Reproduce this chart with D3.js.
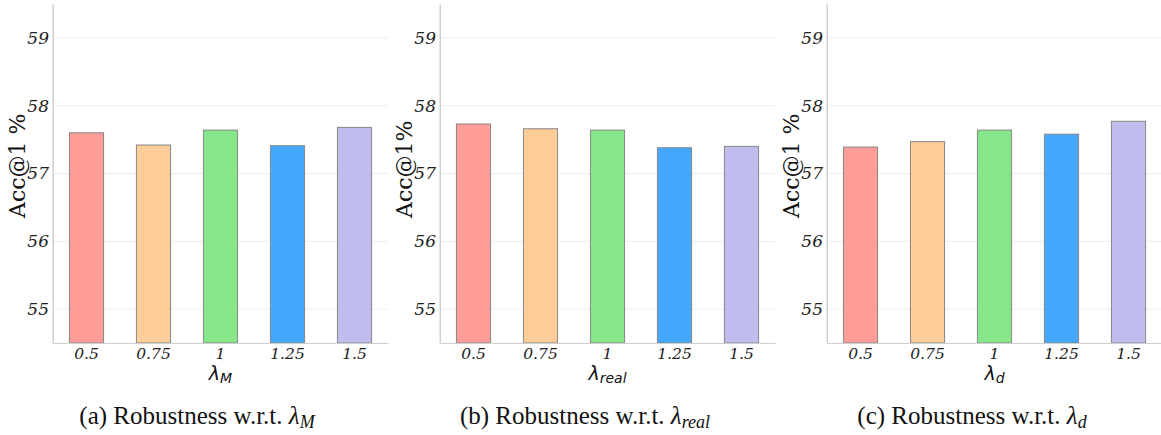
<!DOCTYPE html>
<html><head><meta charset="utf-8">
<script src="https://cdn.jsdelivr.net/npm/d3@7"></script>
<style>
body{margin:0;background:#fff;}
svg{display:block;}
</style></head>
<body>
<svg id="c" width="1161" height="435"></svg>
<script>
const categories = ["0.5", "0.75", "1", "1.25", "1.5"];
const valuesM    = [57.60, 57.42, 57.64, 57.41, 57.68];
const valuesReal = [57.73, 57.66, 57.64, 57.38, 57.40];
const valuesD    = [57.39, 57.47, 57.64, 57.58, 57.77];
const yTicks = [55, 56, 57, 58, 59];
const yDomain = [54.5, 59.5];
const barColors = ["#fe9c98", "#fecc98", "#86e78a", "#43a8fc", "#bfbdee"];
const yLabels = ["Acc@1 %", "Acc@1%", "Acc@1 %"];
const subs = ["M", "real", "d"];
const captionPrefix = ["(a)", "(b)", "(c)"];
const seriesList = [valuesM, valuesReal, valuesD];

const svg = d3.select("#c");
const lefts = [53, 440, 827];
const plotTop = 4, plotBottom = 343, plotW = 335;
const captionCx = [197, 585, 972];

seriesList.forEach((vals, i) => {
  const g = svg.append("g").attr("transform", `translate(${lefts[i]},0)`);
  const x = d3.scaleBand().domain(categories).range([0, plotW]).paddingInner(0.49).paddingOuter(0.245);
  const y = d3.scaleLinear().domain(yDomain).range([plotBottom, plotTop]);

  // grid
  g.selectAll(".grid").data(yTicks).enter().append("line")
    .attr("x1", 0).attr("x2", plotW)
    .attr("y1", d => y(d)).attr("y2", d => y(d))
    .attr("stroke", "#ededed").attr("stroke-width", 1);

  // bars
  g.selectAll(".bar").data(vals).enter().append("rect")
    .attr("x", (d, j) => x(categories[j]))
    .attr("width", x.bandwidth())
    .attr("y", d => y(d))
    .attr("height", d => plotBottom - y(d))
    .attr("fill", (d, j) => barColors[j])
    .attr("stroke", "#888").attr("stroke-width", 1);

  // y axis
  const ya = g.append("g").call(d3.axisLeft(y).tickValues(yTicks).tickFormat(d3.format("d")).tickSize(0).tickPadding(4));
  ya.select(".domain").attr("stroke", "#cfcfcf");
  ya.selectAll("text").style("font-family", "'DejaVu Serif'").style("font-style", "italic")
    .style("font-size", "17px").attr("fill", "#222");
  g.append("line").attr("x1", 0).attr("x2", 0).attr("y1", plotTop).attr("y2", plotBottom).attr("stroke", "#cfcfcf");

  // x axis
  const xa = g.append("g").attr("transform", `translate(0,${plotBottom})`)
    .call(d3.axisBottom(x).tickSize(0).tickPadding(5));
  xa.select(".domain").attr("stroke", "#cfcfcf");
  xa.selectAll("text").style("font-family", "'DejaVu Serif'").style("font-style", "italic")
    .style("font-size", "15.5px").attr("fill", "#222");

  // x label
  const xl = g.append("text").attr("x", plotW / 2).attr("y", 380).attr("text-anchor", "middle")
    .style("font-family", "'DejaVu Sans'").style("font-size", "19px").attr("fill", "#111");
  xl.append("tspan").style("font-style", "italic").text("λ");
  xl.append("tspan").style("font-style", "italic").style("font-size", "14px").attr("dy", 3).text(subs[i]);

  // y label
  g.append("text").attr("transform", `translate(${-28},218) rotate(-90)`)
    .attr("text-anchor", "start")
    .style("font-family", "'DejaVu Serif'").style("font-size", "22px").attr("fill", "#111")
    .text(yLabels[i]);

  // caption
  const cap = svg.append("text").attr("x", captionCx[i]).attr("y", 424).attr("text-anchor", "middle")
    .style("font-family", "'Liberation Serif'").style("font-size", "25px").attr("fill", "#111");
  cap.append("tspan").text(captionPrefix[i] + " Robustness w.r.t. ");
  cap.append("tspan").style("font-style", "italic").text("λ");
  cap.append("tspan").style("font-style", "italic").style("font-size", "18px").attr("dy", 4).text(subs[i]);
});
</script>
</body></html>
